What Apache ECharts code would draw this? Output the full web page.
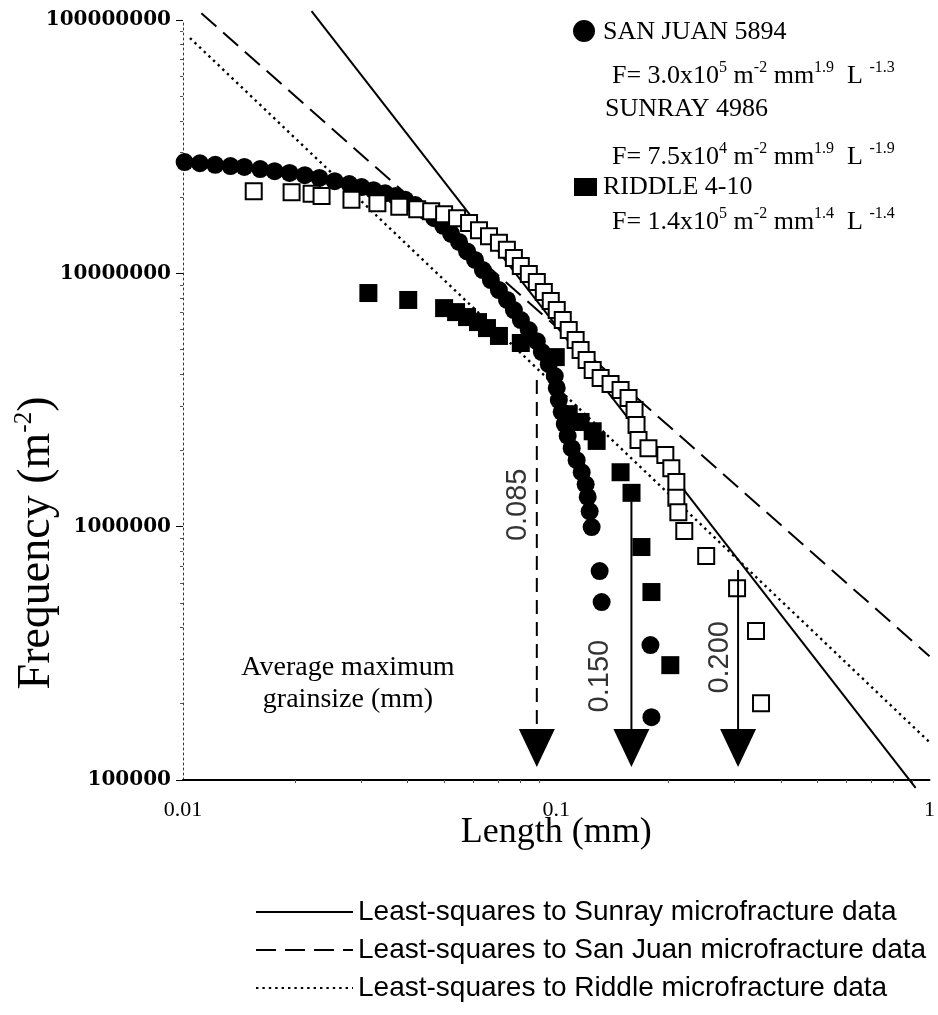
<!DOCTYPE html>
<html><head><meta charset="utf-8">
<script src="https://cdn.jsdelivr.net/npm/echarts@6/dist/echarts.min.js"></script>
<style>html,body{margin:0;padding:0;background:#fff}#c{width:938px;height:1015px}</style>
</head><body><div id="c"></div>
<script>
// ---- data (length in mm, frequency in m^-2) ----
const sanJuanL = [0.0101,0.0111,0.0122,0.0134,0.0146,0.0161,0.0176,0.0193,0.0212,0.0232,0.0255,0.0279,0.0301,0.0324,0.0348,0.0371,0.0394,0.0419,0.0446,0.0471,0.0498,0.0523,0.0549,0.0577,0.0606,0.0636,0.0668,0.0702,0.0738,0.0770,0.0804,0.0844,0.0887,0.0915,0.0955,0.0991,0.1003,0.1016,0.1034,0.1054,0.1073,0.1100,0.1134,0.1170,0.1199,0.1214,0.1229,0.1244,0.1307,0.1323,0.1788,0.1799];
const sanJuanF = [2.75e7,2.72e7,2.68e7,2.65e7,2.63e7,2.58e7,2.53e7,2.49e7,2.44e7,2.38e7,2.31e7,2.25e7,2.19e7,2.13e7,2.07e7,2.02e7,1.95e7,1.86e7,1.76e7,1.65e7,1.54e7,1.43e7,1.33e7,1.22e7,1.13e7,1.03e7,9.41e6,8.59e6,7.85e6,7.16e6,6.54e6,5.97e6,5.40e6,4.89e6,4.38e6,3.93e6,3.53e6,3.16e6,2.84e6,2.54e6,2.28e6,2.04e6,1.83e6,1.64e6,1.47e6,1.31e6,1.15e6,9.96e5,6.68e5,5.04e5,3.41e5,1.77e5];
const sunrayL = [0.01547,0.01954,0.02211,0.02351,0.02827,0.03317,0.03797,0.04241,0.04623,0.05007,0.05424,0.05840,0.06209,0.06604,0.07022,0.07375,0.07700,0.08036,0.08443,0.08870,0.09262,0.09667,0.1003,0.1041,0.1080,0.1127,0.1162,0.1206,0.1252,0.1315,0.1398,0.1487,0.1562,0.1621,0.1641,0.1661,0.1766,0.1960,0.2034,0.2098,0.2098,0.2124,0.2203,0.2522,0.3051,0.3429,0.3537];
const sunrayF = [2.11e7,2.09e7,2.06e7,2.02e7,1.95e7,1.89e7,1.83e7,1.79e7,1.76e7,1.71e7,1.65e7,1.58e7,1.48e7,1.40e7,1.32e7,1.24e7,1.15e7,1.07e7,9.94e6,9.24e6,8.44e6,7.78e6,7.16e6,6.54e6,5.97e6,5.45e6,4.98e6,4.55e6,4.15e6,3.86e6,3.66e6,3.46e6,3.22e6,2.89e6,2.52e6,2.20e6,2.04e6,1.92e6,1.70e6,1.50e6,1.30e6,1.14e6,9.61e5,7.66e5,5.72e5,3.87e5,2.01e5];
const riddleL = [0.03138,0.04013,0.05007,0.05391,0.05768,0.06170,0.06522,0.07022,0.08036,0.09970,0.1080,0.1162,0.1252,0.1283,0.1487,0.1591,0.1691,0.1799,0.2021];
const riddleF = [8.36e6,7.85e6,7.29e6,7.03e6,6.72e6,6.42e6,6.08e6,5.66e6,5.31e6,4.67e6,2.78e6,2.59e6,2.38e6,2.18e6,1.64e6,1.36e6,8.31e5,5.52e5,2.84e5];
// least-squares fit lines (end points)
const fitNames = ['Least-squares to Sunray microfracture data','Least-squares to San Juan microfracture data','Least-squares to Riddle microfracture data'];
const sunrayFitL = [0.0221, 0.918];  const sunrayFitF = [1.085e8, 9.3e4];
const sanJuanFitL = [0.0112, 1.0];   const sanJuanFitF = [1.063e8, 3.08e5];
const riddleFitL = [0.01044, 1.0];   const riddleFitF = [8.49e7, 1.41e5];
// average maximum grainsize arrows
const arrowL = [0.0887, 0.159, 0.307];
const arrowTopF = [3.79e6, 1.27e6, 6.75e5];
const arrowTipF = [1.337e5, 1.337e5, 1.337e5];
const arrowLabels = ['0.085', '0.150', '0.200'];
const arrowLabelL = [0.0789, 0.1307, 0.2749];
const arrowLabelF = [1.22e6, 2.57e5, 3.05e5];

const serif = '"Liberation Serif","Times New Roman",serif';
const sans = '"Liberation Sans",Arial,sans-serif';
const pairs = (a, b) => a.map((v, i) => [v, b[i]]);

const series = [
  {name: fitNames[0], type:'line', data: pairs(sunrayFitL, sunrayFitF), symbol:'none', clip:false, z:2,
   itemStyle:{color:'#000'}, lineStyle:{color:'#000', width:2, type:'solid'}},
  {name: fitNames[1], type:'line', data: pairs(sanJuanFitL, sanJuanFitF), symbol:'none', clip:false, z:2,
   itemStyle:{color:'#000'}, lineStyle:{color:'#000', width:2, type:[20,9]}},
  {name: fitNames[2], type:'line', data: pairs(riddleFitL, riddleFitF), symbol:'none', clip:false, z:2,
   itemStyle:{color:'#000'}, lineStyle:{color:'#000', width:2.4, type:[2.4,4]}},
  {name:'SAN JUAN 5894', type:'scatter', data: pairs(sanJuanL, sanJuanF), symbol:'circle', symbolSize:18,
   itemStyle:{color:'#000', opacity:1}, z:3},
  {name:'RIDDLE 4-10', type:'scatter', data: pairs(riddleL, riddleF), symbol:'rect', symbolSize:18,
   itemStyle:{color:'#000', opacity:1}, z:4},
  {name:'SUNRAY 4986', type:'scatter', data: pairs(sunrayL, sunrayF), symbol:'rect', symbolSize:16,
   itemStyle:{color:'#fff', borderColor:'#000', borderWidth:2, opacity:1}, z:5}
];
arrowL.forEach((x, i) => {
  series.push({type:'line', data:[[x, arrowTopF[i]], [x, arrowTipF[i]]], symbol:'none', z:6,
    lineStyle:{color:'#000', width:2, type: i === 0 ? [14,8] : 'solid'}});
});
series.push({type:'scatter', data: pairs(arrowL, arrowTipF), symbol:'triangle', symbolRotate:180,
  symbolSize:[36,38], itemStyle:{color:'#000', opacity:1}, z:7});
series.push({type:'scatter', data: pairs(arrowLabelL, arrowLabelF), symbolSize:1,
  itemStyle:{color:'rgba(0,0,0,0)'}, z:7,
  label:{show:true, position:'inside', rotate:90, formatter: p => arrowLabels[p.dataIndex],
    fontFamily: sans, fontSize:29, color:'#000'}});

const sup = {fontFamily: serif, fontSize:16, lineHeight:16, verticalAlign:'top', fill:'#000'};
function txt(x, y, text, size, extra) {
  return Object.assign({type:'text', x:x, y:y, silent:true,
    style:{text:text, fontFamily: serif, fontSize: size, lineHeight:32, fill:'#000',
      verticalAlign:'middle', rich:{s: sup}}}, extra || {});
}

const option = {
  backgroundColor:'#fff',
  animation:false,
  grid:{left:183, right:6, top:20, bottom:235},
  xAxis:{type:'log', logBase:10, min:0.01, max:1,
    name:'Length (mm)', nameLocation:'middle', nameGap:35, nameMoveOverlap:false,
    nameTextStyle:{fontFamily: serif, fontSize:36, color:'#000', verticalAlign:'top'},
    axisLine:{show:true, lineStyle:{color:'#000', width:2}},
    axisTick:{show:false},
    minorTick:{show:true, splitNumber:9, length:3, lineStyle:{color:'#555'}},
    axisLabel:{formatter: v => String(Number(Number(v).toPrecision(2))), fontFamily: serif, fontSize:22, color:'#000', margin:19},
    splitLine:{show:false}},
  yAxis:{type:'log', logBase:10, min:1e5, max:1e8,
    axisLine:{show:true, lineStyle:{color:'#333', width:1, type:[2,3]}},
    axisTick:{show:true, length:7, lineStyle:{color:'#000'}},
    minorTick:{show:true, splitNumber:9, length:3, lineStyle:{color:'#555'}},
    axisLabel:{formatter: v => String(Math.round(v)), fontFamily:'"DejaVu Serif",serif', fontWeight:'bold', fontSize:20, color:'#000', margin:12},
    splitLine:{show:false}},
  legend:{data: fitNames, orient:'vertical', left:250, top:893, itemWidth:97, itemHeight:14, itemGap:10,
    selectedMode:false, itemStyle:{color:'rgba(0,0,0,0)', borderWidth:0},
    textStyle:{fontFamily: sans, fontSize:28, color:'#000', lineHeight:28}},
  graphic:[
    {type:'circle', shape:{cx:584, cy:31, r:11}, style:{fill:'#000'}, silent:true},
    txt(603, 32, 'SAN JUAN 5894', 26),
    txt(612, 76, 'F= 3.0x10{s|5} m{s|-2} mm{s|1.9}  L {s|-1.3}', 26),
    txt(605, 109, 'SUNRAY 4986', 26),
    txt(612, 157, 'F= 7.5x10{s|4} m{s|-2} mm{s|1.9}  L {s|-1.9}', 26),
    {type:'rect', shape:{x:574, y:178, width:23, height:18}, style:{fill:'#000'}, silent:true},
    txt(603, 187, 'RIDDLE 4-10', 26),
    txt(612, 222, 'F= 1.4x10{s|5} m{s|-2} mm{s|1.4}  L {s|-1.4}', 26),
    {type:'text', x:348, y:684, silent:true, style:{text:'Average maximum\ngrainsize (mm)', fontFamily: serif,
      fontSize:28, lineHeight:32, fill:'#000', align:'center', verticalAlign:'middle'}},
    {type:'text', x:37, y:543, rotation: Math.PI/2, silent:true,
      style:{text:'Frequency (m{s|-2})', fontFamily: serif, fontSize:46, lineHeight:50, fill:'#000',
        align:'center', verticalAlign:'middle', rich:{s:{fontFamily: serif, fontSize:25, lineHeight:25, verticalAlign:'top', fill:'#000'}}}}
  ],
  series: series
};
const chart = echarts.init(document.getElementById('c'));
chart.setOption(option);
</script>
</body></html>
